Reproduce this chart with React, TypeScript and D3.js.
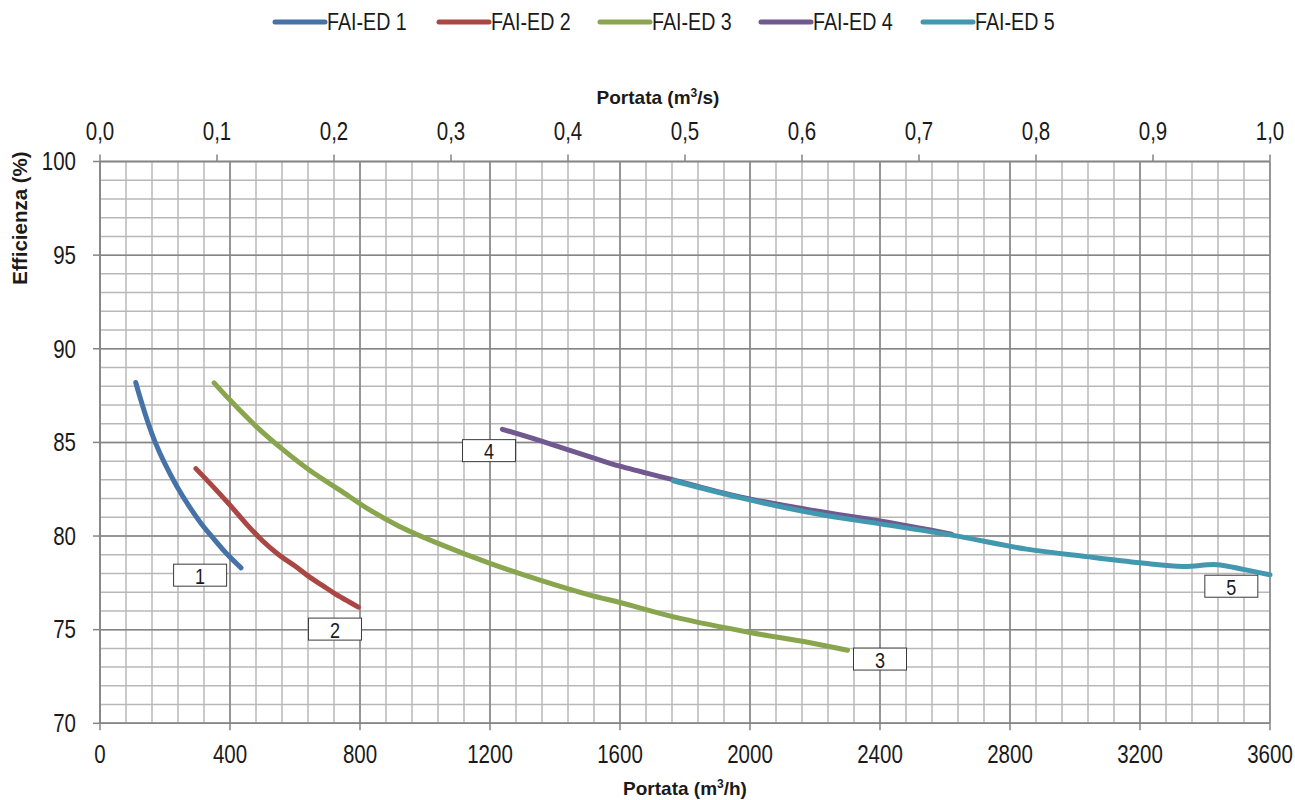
import React from "react";
import * as d3 from "d3";

const seriesNames = ["FAI-ED 1", "FAI-ED 2", "FAI-ED 3", "FAI-ED 4", "FAI-ED 5"];
const seriesColors = ["#4572A7", "#AA4643", "#89A54E", "#71588F", "#4198AF"];

const s1x = [110, 125, 145, 170, 200, 235, 270, 310, 350, 390, 434];
const s1y = [88.2, 87.3, 86.2, 85.0, 83.85, 82.7, 81.7, 80.7, 79.85, 79.05, 78.3];
const s2x = [295, 350, 400, 450, 500, 550, 600, 650, 690, 720, 760, 795];
const s2y = [83.6, 82.6, 81.65, 80.65, 79.75, 79.0, 78.4, 77.75, 77.3, 76.95, 76.55, 76.2];
const s3x = [351, 400, 482, 564, 646, 738, 831, 923, 1046, 1200, 1354, 1508, 1600, 1785, 2000, 2185, 2300];
const s3y = [88.18, 87.26, 85.83, 84.6, 83.5, 82.45, 81.38, 80.5, 79.57, 78.54, 77.64, 76.84, 76.45, 75.6, 74.85, 74.3, 73.9];
const s4x = [1238, 1354, 1508, 1600, 1764, 1969, 2200, 2400, 2620];
const s4y = [85.7, 85.09, 84.23, 83.73, 83.0, 82.09, 81.35, 80.8, 80.1];
const s5x = [1764, 1969, 2200, 2400, 2620, 2851, 3035, 3200, 3333, 3436, 3518, 3600];
const s5y = [82.95, 82.05, 81.2, 80.65, 80.05, 79.3, 78.9, 78.57, 78.37, 78.47, 78.22, 77.93];

const seriesX = [s1x, s2x, s3x, s4x, s5x];
const seriesY = [s1y, s2y, s3y, s4y, s5y];

const labelTexts = ["1", "2", "3", "4", "5"];
const labelX = [308, 723, 2400, 1197, 3481];
const labelY = [77.91, 75.03, 73.43, 84.56, 77.32];

const bottomTicks = [0, 400, 800, 1200, 1600, 2000, 2400, 2800, 3200, 3600];
const topTicks = [0, 0.1, 0.2, 0.3, 0.4, 0.5, 0.6, 0.7, 0.8, 0.9, 1.0];
const yTicks = [70, 75, 80, 85, 90, 95, 100];

const W = 1295;
const H = 800;
const left = 100, right = 1270, top = 161.5, bottom = 723.3;

const FONT = "'Liberation Sans', Arial, sans-serif";
const SX = 0.82;

function T(props: {
  x: number;
  y: number;
  anchor?: "start" | "middle" | "end";
  baseline?: string;
  children: React.ReactNode;
}) {
  return (
    <text
      transform={`translate(${props.x},${props.y}) scale(${SX},1)`}
      textAnchor={props.anchor || "start"}
      dominantBaseline={props.baseline || "auto"}
    >
      {props.children}
    </text>
  );
}

export default function App() {
  const x = d3.scaleLinear().domain([0, 3600]).range([left, right]);
  const xTop = d3.scaleLinear().domain([0, 1]).range([left, right]);
  const y = d3.scaleLinear().domain([70, 100]).range([bottom, top]);

  const minorX = d3.range(0, 3600.1, 80);
  const minorY = d3.range(70, 100.1, 1);

  const line = d3
    .line<[number, number]>()
    .x((d) => x(d[0]))
    .y((d) => y(d[1]))
    .curve(d3.curveCatmullRom.alpha(0.5));

  const fmtTop = (v: number) => v.toFixed(1).replace(".", ",");

  const legendStart = [275, 439, 600, 761, 923];

  return (
    <svg
      width={W}
      height={H}
      style={{ position: "absolute", left: 0, top: 0, display: "block", background: "#fff" }}
    >
      {/* minor grid */}
      <g stroke="#b8b8b8" strokeWidth={1.5}>
        {minorX.map((v) => (
          <line key={"mx" + v} x1={x(v)} x2={x(v)} y1={top} y2={bottom} />
        ))}
        {minorY.map((v) => (
          <line key={"my" + v} x1={left} x2={right} y1={y(v)} y2={y(v)} />
        ))}
      </g>
      {/* major grid */}
      <g stroke="#858585" strokeWidth={1.5}>
        {bottomTicks.map((v) => (
          <line key={"Mx" + v} x1={x(v)} x2={x(v)} y1={top} y2={bottom} />
        ))}
        {yTicks.map((v) => (
          <line key={"My" + v} x1={left} x2={right} y1={y(v)} y2={y(v)} />
        ))}
      </g>
      {/* axes */}
      <g stroke="#858585" strokeWidth={1.5}>
        <line x1={left} x2={left} y1={top} y2={bottom} />
        <line x1={left} x2={right} y1={bottom} y2={bottom} />
        <line x1={left} x2={right} y1={top} y2={top} />
        {yTicks.map((v) => (
          <line key={"yt" + v} x1={left - 7} x2={left} y1={y(v)} y2={y(v)} />
        ))}
        {bottomTicks.map((v) => (
          <line key={"bt" + v} x1={x(v)} x2={x(v)} y1={bottom} y2={bottom + 7} />
        ))}
        {topTicks.map((v) => (
          <line key={"tt" + v} x1={xTop(v)} x2={xTop(v)} y1={top - 7} y2={top} />
        ))}
      </g>
      {/* tick labels */}
      <g fontFamily={FONT} fontSize={25} fill="#1a1a1a">
        {yTicks.map((v) => (
          <T key={"yl" + v} x={76} y={y(v)} anchor="end" baseline="central">
            {v}
          </T>
        ))}
        {bottomTicks.map((v) => (
          <T key={"bl" + v} x={x(v)} y={763} anchor="middle">
            {v}
          </T>
        ))}
        {topTicks.map((v) => (
          <T key={"tl" + v} x={xTop(v)} y={140} anchor="middle">
            {fmtTop(v)}
          </T>
        ))}
      </g>
      {/* axis titles */}
      <g fontFamily={FONT} fontWeight="bold" fontSize={19} fill="#1a1a1a">
        <text x={685} y={795} textAnchor="middle">
          Portata (m<tspan dy={-7} fontSize={12}>3</tspan>
          <tspan dy={7}>/h)</tspan>
        </text>
        <text x={658} y={104} textAnchor="middle">
          Portata (m<tspan dy={-7} fontSize={12}>3</tspan>
          <tspan dy={7}>/s)</tspan>
        </text>
        <text transform={`translate(27,218) rotate(-90)`} textAnchor="middle" fontSize={20.5}>
          Efficienza (%)
        </text>
      </g>
      {/* series */}
      <g fill="none" strokeWidth={5} strokeLinecap="round" strokeLinejoin="round">
        {seriesX.map((xs, i) => (
          <path
            key={"s" + i}
            d={line(xs.map((xv, j) => [xv, seriesY[i][j]] as [number, number])) || ""}
            stroke={seriesColors[i]}
          />
        ))}
      </g>
      {/* data labels */}
      <g fontFamily={FONT} fontSize={22} fill="#1a1a1a">
        {labelTexts.map((t, i) => (
          <g key={"lb" + i} transform={`translate(${x(labelX[i])},${y(labelY[i])})`}>
            <rect x={-26.5} y={-11} width={53} height={22} fill="#fff" stroke="#3a3a3a" strokeWidth={1} />
            <T x={0} y={1} anchor="middle" baseline="central">
              {t}
            </T>
          </g>
        ))}
      </g>
      {/* legend */}
      <g fontFamily={FONT} fontSize={24} fill="#1a1a1a">
        {seriesNames.map((n, i) => (
          <g key={"lg" + i} transform={`translate(${legendStart[i]},22)`}>
            <line x1={0} x2={50} y1={0} y2={0} stroke={seriesColors[i]} strokeWidth={5} strokeLinecap="round" />
            <T x={52} y={0} baseline="central">
              {n}
            </T>
          </g>
        ))}
      </g>
    </svg>
  );
}
